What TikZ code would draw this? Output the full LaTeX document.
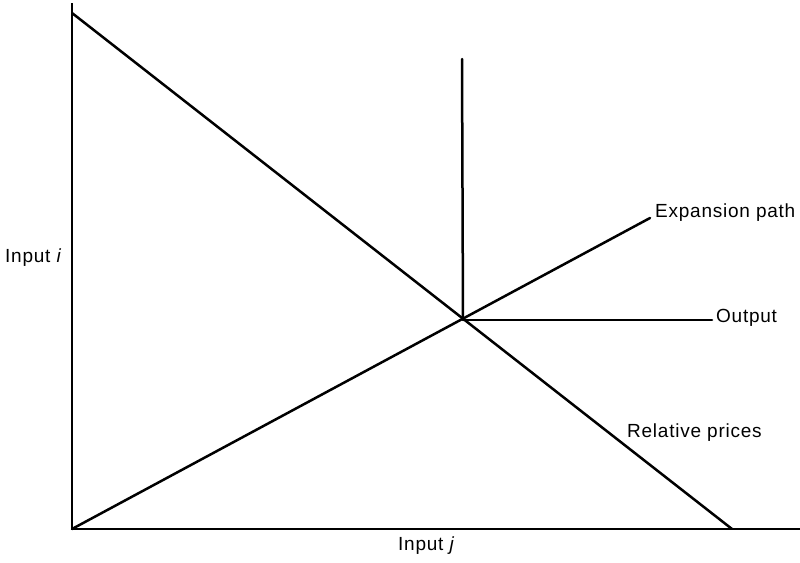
\documentclass[tikz,border=0pt]{standalone}
\usepackage{fontspec}
\setmainfont{Liberation Sans}[LetterSpace=4]
\begin{document}
\begin{tikzpicture}[x=1pt,y=-1pt,
  ln/.style={line width=2.5pt, line cap=round},
  ax/.style={line width=1.9pt},
  lbl/.style={font=\fontsize{19}{22}\selectfont, inner sep=0pt}]
\useasboundingbox (0,0) rectangle (800,562);
% axes
\coordinate (O) at (72,529);
\coordinate (Ytop) at (72,3);
\coordinate (Xend) at (800,529);
\draw[ax] (Ytop) -- (O) -- (Xend);
% key points
\coordinate (E) at (463,320);
\coordinate (RPs) at (72,13);
\coordinate (RPe) at (732,529);
\coordinate (Vtop) at (462,59);
\coordinate (Oute) at (712,320);
\coordinate (EPe) at (650,218);
% lines
\draw[ln] (RPs) -- (RPe);
\draw[ln] (O) -- (EPe);
\draw[ln] (Vtop) -- (E);
\draw[ln] (E) -- (Oute);
% labels
\node[lbl, anchor=west] (lEP) at (655,213) {Expansion path};
\node[lbl, anchor=west] (lOut) at (716,318) {Output};
\node[lbl, anchor=west] (lRP) at (627,433) {Relative prices};
\node[lbl, anchor=west] (lI) at (5,258) {Input \textit{i}};
\node[lbl, anchor=west] (lJ) at (398,546) {Input \textit{j}};
\end{tikzpicture}
\end{document}
